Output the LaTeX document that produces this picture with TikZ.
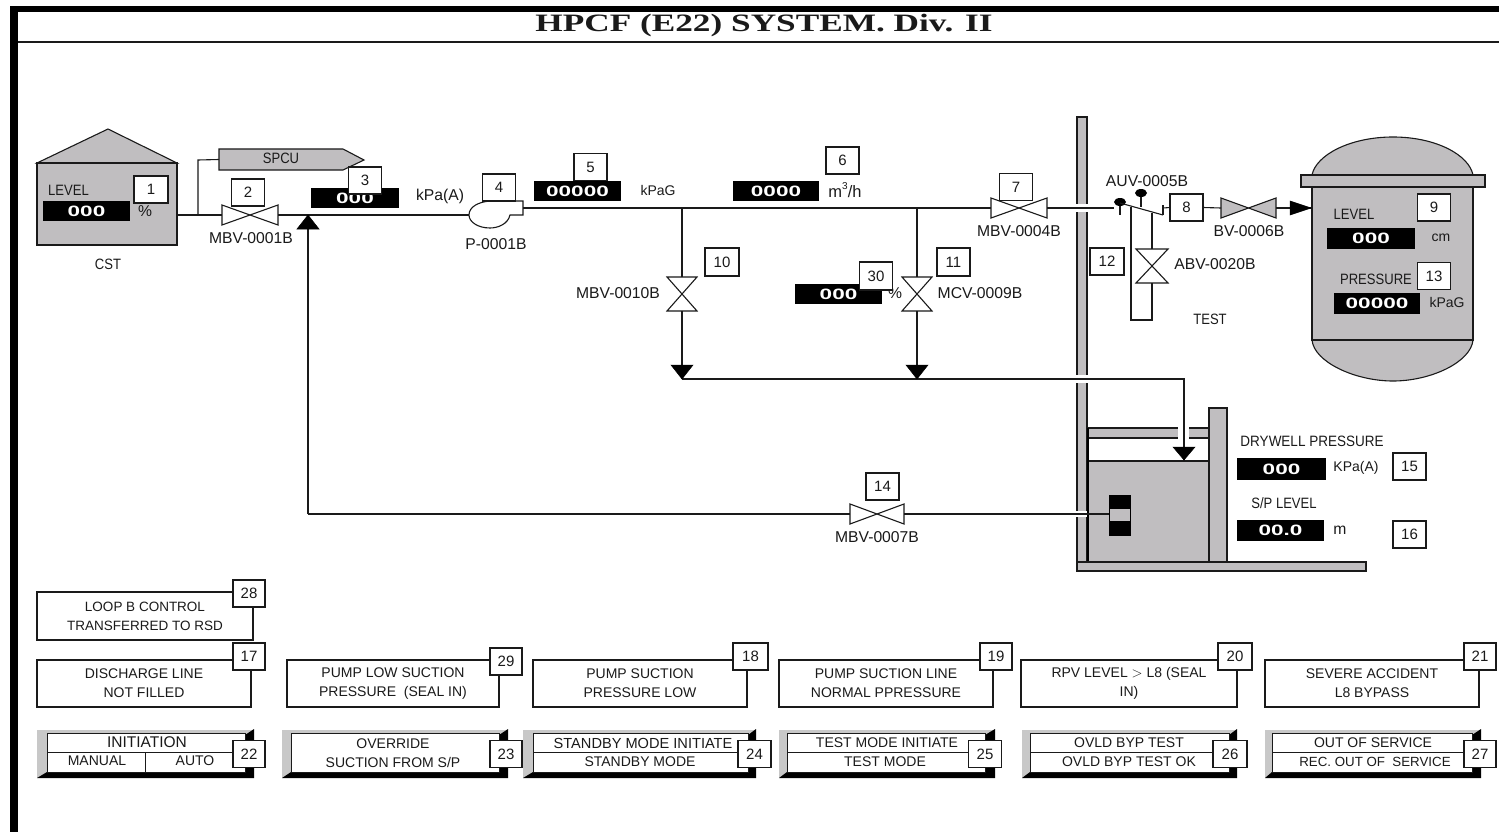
\documentclass[tikz,border=0pt]{standalone}
\usepackage{fontspec}
\usepackage{graphicx}
\setmainfont{Liberation Sans}
\newfontfamily\titlefont{Liberation Serif}
\definecolor{plant}{HTML}{C0BEC0}
\definecolor{bevel}{HTML}{C8C8C8}
\definecolor{ink}{HTML}{1A1A1A}
\newcommand{\dgt}[1]{\scalebox{1.5}[1]{\bfseries #1}}
\newcommand{\capt}[1]{\scalebox{.87}[1]{\fontsize{15}{17}\selectfont #1}}
\tikzset{
  every node/.style={inner sep=0pt,outer sep=0pt,text=ink,font=\fontsize{14}{19}\selectfont,align=center},
  tag/.style={font=\fontsize{15.7}{18}\selectfont},
  line/.style={draw=ink,line width=1.1pt},
  solid plant/.style={draw=ink,line width=1.1pt,fill=plant},
  badge/.style={draw=ink,line width=1.1pt,fill=white,minimum width=33pt,minimum height=27pt,font=\fontsize{15}{17}\selectfont},
  display/.style={fill=black,text=white,minimum height=20.5pt,font=\fontsize{15}{17}\selectfont},
  alarm/.style={draw=ink,line width=1.1pt,fill=white,minimum height=47pt},
  face/.style={draw=ink,line width=1pt,fill=white,minimum height=39pt},
  head/.style={fill=black,draw=black,line width=.5pt},
}
% horizontal valve: name, cx, cy, half width, fill
\newcommand{\hvalve}[5]{%
  \coordinate (#1) at (#2,#3);
  \coordinate (#1w) at ($(#1)+(-#4,0)$);
  \coordinate (#1e) at ($(#1)+(#4,0)$);
  \filldraw[line,fill=#5] (#1w) ++(0,-10) -- ++(0,20) -- ($(#1e)+(0,-10)$) -- ++(0,20) -- cycle;}
% vertical valve: name, cx, cy, half width, half height
\newcommand{\vvalve}[5]{%
  \coordinate (#1) at (#2,#3);
  \coordinate (#1n) at ($(#1)+(0,-#5)$);
  \coordinate (#1s) at ($(#1)+(0,#5)$);
  \filldraw[line,fill=white] (#1n) ++(-#4,0) -- ++(2*#4,0) -- ($(#1s)+(-#4,0)$) -- ++(2*#4,0) -- cycle;}
% button: name, outer left, outer right, inner left, inner right
\newcommand{\btn}[5]{%
  \fill[bevel] (#2,730) rectangle (#3,778);
  \fill[black] (#3,729) -- (#3,778) -- (#2,778) -- (#4,772) -- (#5,772) -- (#5,735) -- cycle;
  \node[face,minimum width=#5pt-#4pt] (#1) at ({(#4+#5)/2},752.5) {};}
\usetikzlibrary{calc}
\begin{document}
\begin{tikzpicture}[x=1pt,y=-1pt]
\fill[white] (0,0) rectangle (1499,832);
\useasboundingbox (0,0) rectangle (1499,832);
% frame
\fill[black] (10,6) rectangle (1499,12);
\fill[black] (10,6) rectangle (18,832);
\draw[line] (18,42) -- (1499,42);
\node[font=\titlefont\fontsize{25}{27}\selectfont\bfseries] (title) at (764,25) {\scalebox{1.41}[1]{HPCF (E22) SYSTEM. Div. II}};
% containment wall
\draw[solid plant] (1077,117) rectangle (1087,566);
\fill[white] (1075,204) rectangle (1089,212);
\fill[white] (1075,375) rectangle (1089,383);
\fill[white] (1075,511) rectangle (1089,517);
% CST
\draw[solid plant] (37,163) -- (108,129) -- (177,163) -- cycle;
\node[solid plant,minimum width=140pt,minimum height=82pt] (cst) at (107,204) {};
\node (cstlabel) at (108,264) {\capt{CST}};
\node (lvl1) at (68.5,190) {\capt{LEVEL}};
\node[display,minimum width=87pt] (d1) at (86.5,211) {\dgt{000}};
\node[tag] (u1) at (145,211) {\%};
\node[badge,minimum width=34pt] (b1) at (151,189.5) {1};
% suction line
\coordinate (branch) at (198,215);
\coordinate (corner) at (198,160);
\hvalve{v2}{250}{215}{28}{white}
\coordinate (tee) at (308,215);
\coordinate (pumpin) at (469,215);
\draw[line] (cst.east |- branch) -- (v2w);
\draw[line] (v2e) -- (pumpin);
\node[minimum width=124pt,minimum height=21pt] (spcubody) at (281,159.5) {};
\draw[solid plant] (219,149) -- (343,149) -- (364,160) -- (343,170) -- (219,170) -- cycle;
\node (spcu) at (281,158) {\capt{SPCU}};
\draw[line] (branch) -- (corner) -- (spcubody.west);
\node[badge] (b2) at (248,192.5) {2};
\node[tag] (l2) at (251,238) {MBV-0001B};
\node[display,minimum width=88pt] (d3) at (355,198) {\dgt{000}};
\node[badge] (b3) at (365,180.5) {3};
\node[tag] (u3) at (440,196) {kPa(A)};
% pump
\filldraw[line,fill=white] (523,201) -- (523,215) -- (510,215) .. controls (508,224) and (498,228) .. (490,228) .. controls (478,228) and (469,222) .. (469,215) .. controls (469,207) and (478,202) .. (490,201) -- cycle;
\coordinate (pumpout) at (523,208);
\node[badge] (b4) at (499,187.5) {4};
\node[tag] (l4) at (496,244) {P-0001B};
% discharge
\node[display,minimum width=87pt] (d5) at (577.5,191) {\dgt{00000}};
\node[badge] (b5) at (590.5,167) {5};
\node (u5) at (658,190) {kPaG};
\node[display,minimum width=86pt] (d6) at (776,191) {\dgt{0000}};
\node[badge] (b6) at (842.5,160.5) {6};
\node[font=\fontsize{16.5}{18}\selectfont] (u6) at (845,190) {m\raisebox{.45em}{\fontsize{10}{10}\selectfont 3}/h};
\hvalve{v7}{1019}{208}{28}{white}
\draw[line] (pumpout) -- (v7w);
\node[badge] (b7) at (1016,187) {7};
\node[tag] (l7) at (1019,231) {MBV-0004B};
% branch valves
\coordinate (j10) at (682,208);
\coordinate (j11) at (917,208);
\vvalve{v10}{682}{294}{15}{17}
\vvalve{v11}{917}{294}{15}{17}
\coordinate (t10) at (682,379);
\coordinate (t11) at (917,379);
\coordinate (pooltip) at (1184,460);
\coordinate (poolturn) at (1184,379);
\draw[line] (j10) -- (v10n);
\draw[line] (v10s) -- (t10);
\draw[line] (j11) -- (v11n);
\draw[line] (v11s) -- (t11);
\draw[line] (t10) -- (poolturn) -- (pooltip);
\fill[head] (t10) -- ++(-11,-14) -- ++(22,0) -- cycle;
\fill[head] (t11) -- ++(-11,-14) -- ++(22,0) -- cycle;
\node[badge,minimum width=34pt,minimum height=28pt] (b10) at (722,262) {10};
\node[badge,minimum width=33pt,minimum height=28pt] (b11) at (953.5,262) {11};
\node[tag] (l10) at (618,293) {MBV-0010B};
\node[tag] (l11) at (980,293) {MCV-0009B};
\node[display,minimum width=87pt] (d30) at (838.5,294) {\dgt{000}};
\node[tag] (u30) at (895,293) {\%};
\node[badge,minimum height=28pt] (b30) at (876,276) {30};
% AUV and test loop
\coordinate (auvin) at (1114,208);
\draw[line] (v7e) -- (auvin);
\coordinate (disc1) at (1120,202);
\coordinate (disc2) at (1141,193);
\draw[line] (disc1) -- ++(0,13);
\draw[line] (disc2) -- ++(0,14);
\fill[black] (disc1) ellipse [x radius=6,y radius=4];
\fill[black] (disc2) ellipse [x radius=6,y radius=4];
\draw[line] (1120,203) -- (1163,215);
\draw[line] (1163,205) -- (1163,215);
\node[badge] (b8) at (1186.5,207.5) {8};
\draw[line] (1163,208) -- (b8.west);
\node[tag] (l5) at (1147,181) {AUV-0005B};
\vvalve{v20}{1152}{266}{16}{17}
\coordinate (tl) at (1131,207);
\coordinate (tb) at (1131,320);
\coordinate (tr) at (1152,320);
\coordinate (tt) at (1152,213);
\draw[line] (tl) -- (tb) -- (tr) -- (v20s);
\draw[line] (v20n) -- (tt);
\node[tag] (l20) at (1215,264) {ABV-0020B};
\node[badge,minimum width=34pt] (b12) at (1107,261.5) {12};
\node (test) at (1210,319) {\capt{TEST}};
% BV
\hvalve{v6}{1248.5}{208}{27.5}{plant}
\draw[line] (b8.east) -- (v6w);
\node[tag] (l6) at (1249,231) {BV-0006B};
% RPV
\coordinate (rpvin) at (1311,208);
\draw[line] (v6e) -- (rpvin);
\draw[solid plant] (1312,175) .. controls (1316,155) and (1350,137) .. (1393,137) .. controls (1436,137) and (1469,155) .. (1473,175) -- cycle;
\draw[solid plant] (1312,340) .. controls (1314,362) and (1355,381) .. (1393,381) .. controls (1431,381) and (1471,362) .. (1473,340) -- cycle;
\node[solid plant,minimum width=161pt,minimum height=153pt] (rpv) at (1392.5,263.5) {};
\node[solid plant,minimum width=184pt,minimum height=12pt] (flange) at (1393,181) {};
\fill[head] (rpvin) -- ++(-21,-7) -- ++(0,14) -- cycle;
\node (lv) at (1354,214) {\capt{LEVEL}};
\node[display,minimum width=88pt] (d9) at (1371,238.5) {\dgt{000}};
\node (u9) at (1441,238) {cm};
\node[badge] (b9) at (1434,207.5) {9};
\node (pr) at (1376,279) {\capt{PRESSURE}};
\node[badge] (b13) at (1434,276) {13};
\node[display,minimum width=86pt] (d13) at (1377,303.5) {\dgt{00000}};
\node (u13) at (1447,302) {kPaG};
% suppression pool
\draw[solid plant] (1088,428) rectangle (1209,438);
\fill[white] (1178,427) rectangle (1189,439);
\draw[solid plant] (1088,461) rectangle (1209,562);
\draw[line width=2.4pt,draw=black] (1088,428) -- (1088,562);
\draw[solid plant] (1209,408) rectangle (1227,562);
\draw[solid plant] (1077,562) rectangle (1366,571);
\draw[line] (poolturn) -- (pooltip);
\fill[head] (pooltip) -- ++(-11,-13) -- ++(22,0) -- cycle;
\node[fill=black,minimum width=22pt,minimum height=41pt] (gauge) at (1120,515.5) {};
\node[fill=plant,minimum width=20pt,minimum height=12pt] (gaugewin) at (1120,515) {};
\coordinate (ret) at (308,514);
\hvalve{v14}{877}{514}{27}{white}
\draw[line] (v14e) -- (gauge.west |- ret);
\draw[line] (v14w) -- (ret);
\draw[line] (ret) -- (tee);
\fill[head] (tee) -- ++(-11,14) -- ++(22,0) -- cycle;
\node[badge] (b14) at (882.5,486.5) {14};
\node[tag] (l14) at (877,537) {MBV-0007B};
\node (dw) at (1312,441) {\scalebox{.9}[1]{\fontsize{15}{17}\selectfont DRYWELL PRESSURE}};
\node[display,minimum width=89pt,minimum height=22pt] (d15) at (1281.5,469) {\dgt{000}};
\node (u15) at (1356,468) {KPa(A)};
\node[badge] (b15) at (1409.5,466.5) {15};
\node (sp) at (1284,503) {\capt{S/P LEVEL}};
\node[display,minimum width=87pt] (d16) at (1280.5,530.5) {\dgt{00.0}};
\node[tag] (u16) at (1340,530) {m};
\node[badge] (b16) at (1409.5,534.5) {16};
% alarms
\node[alarm,minimum width=216pt,minimum height=48pt,font=\fontsize{13.5}{19}\selectfont] (a28) at (145,616) {LOOP B CONTROL\\TRANSFERRED TO RSD};
\node[badge,minimum width=32pt] (b28) at (249,593.5) {28};
\node[alarm,minimum width=214pt] (a17) at (144,683.5) {DISCHARGE LINE\\NOT FILLED};
\node[badge,minimum width=32pt] (b17) at (249,656.5) {17};
\node[alarm,minimum width=212pt] (a29) at (393,683.5) {PUMP LOW SUCTION\\PRESSURE\ \ (SEAL IN)};
\node[badge,minimum width=32pt] (b29) at (506,661.5) {29};
\node[alarm,minimum width=214pt] (a18) at (640,683.5) {PUMP SUCTION\\PRESSURE LOW};
\node[badge,minimum width=35pt] (b18) at (750.5,656.5) {18};
\node[alarm,minimum width=214pt] (a19) at (886,683.5) {PUMP SUCTION LINE\\NORMAL PPRESSURE};
\node[badge,minimum width=32pt] (b19) at (996,656.5) {19};
\node[alarm,minimum width=216pt] (a20) at (1129,683.5) {RPV LEVEL $>$ L8 (SEAL\\IN)};
\node[badge,minimum width=34pt] (b20) at (1235,656.5) {20};
\node[alarm,minimum width=214pt] (a21) at (1372,683.5) {SEVERE ACCIDENT\\L8 BYPASS};
\node[badge,minimum width=32pt] (b21) at (1480,656.5) {21};
% buttons
\btn{s22}{37}{254}{47}{245}
\draw[line width=1pt,draw=ink] (s22.west) -- (s22.east);
\draw[line width=1pt,draw=ink] (145,752) -- (s22.south -| 145,0);
\node[font=\fontsize{15.5}{18}\selectfont] (t22a) at (147,742) {INITIATION};
\node (t22b) at (97,761) {MANUAL};
\node (t22c) at (195,761) {AUTO};
\node[badge,minimum width=32pt] (b22) at (249,754) {22};
\btn{s23}{282}{508}{291}{499}
\node (t23a) at (393,744) {OVERRIDE};
\node (t23b) at (393,762) {SUCTION FROM S/P};
\node[badge,minimum width=32pt] (b23) at (506,754) {23};
\btn{s24}{523}{756}{533}{748}
\draw[line width=1pt,draw=ink] (s24.west) -- (s24.east);
\node[font=\fontsize{14.6}{18}\selectfont] (t24a) at (643,743) {STANDBY MODE INITIATE};
\node (t24b) at (640,762) {STANDBY MODE};
\node[badge] (b24) at (754.5,754) {24};
\btn{s25}{779}{995}{787}{985}
\draw[line width=1pt,draw=ink] (s25.west) -- (s25.east);
\node (t25a) at (887,743) {TEST MODE INITIATE};
\node (t25b) at (885,762) {TEST MODE};
\node[badge] (b25) at (985,754) {25};
\btn{s26}{1022}{1237}{1030}{1229}
\draw[line width=1pt,draw=ink] (s26.west) -- (s26.east);
\node (t26a) at (1129,743) {OVLD BYP TEST};
\node (t26b) at (1129,762) {OVLD BYP TEST OK};
\node[badge,minimum width=34pt] (b26) at (1230,754) {26};
\btn{s27}{1265}{1481}{1272}{1472}
\draw[line width=1pt,draw=ink] (s27.west) -- (s27.east);
\node (t27a) at (1373,743) {OUT OF SERVICE};
\node[font=\fontsize{13.3}{18}\selectfont] (t27b) at (1375,762) {REC. OUT OF\ \ SERVICE};
\node[badge,minimum width=32pt] (b27) at (1480,754) {27};
\end{tikzpicture}
\end{document}
